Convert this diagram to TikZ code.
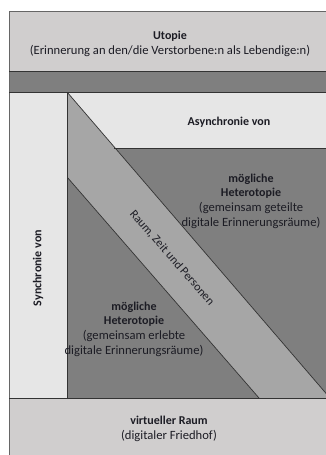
\documentclass[tikz,border=0pt]{standalone}
\usepackage{fontspec}
\setmainfont{Carlito}
\definecolor{bandlight}{HTML}{D0CECE}
\definecolor{panel}{HTML}{E6E6E6}
\definecolor{darkfill}{HTML}{7F7F7F}
\definecolor{stripe}{HTML}{A6A6A6}
\definecolor{edge}{HTML}{333333}
\definecolor{outeredge}{HTML}{666666}
\definecolor{ink}{HTML}{1C1C24}
\newcommand{\paren}[1]{{\fontsize{12.6}{14.7}\selectfont #1}}
\begin{document}
\begin{tikzpicture}[x=1pt,y=-1pt,
  label/.style={text=ink,align=center,font=\fontsize{12}{14.7}\selectfont,inner sep=0pt},
  frameline/.style={draw=edge,line width=0.8pt}]
\useasboundingbox (0,0) rectangle (325,455);
% horizontal bands
\fill[bandlight] (9,11) rectangle (335,71);
\fill[darkfill] (9,71) rectangle (335,92);
\fill[bandlight] (9,398) rectangle (335,460);
% left column
\fill[panel] (9,92) rectangle (67,398);
% central field
\fill[darkfill] (67,92) rectangle (335,398);
\fill[panel] (67,92) rectangle (335,148);
\begin{scope}
  \clip (67,92) rectangle (335,398);
  \fill[stripe] (67,92) -- (67,177) -- (259,398) -- (330,398) -- cycle;
  \draw[edge,line width=0.7pt] (67,92) -- (330,398);
  \draw[edge,line width=0.7pt] (67,177) -- (259,398);
\end{scope}
\draw[edge,line width=0.7pt] (114,148) -- (335,148);
% outlines
\draw[outeredge,line width=0.9pt] (9,460) -- (9,11) -- (335,11);
\draw[frameline] (9,71) -- (335,71);
\draw[frameline] (9,92) -- (335,92);
\draw[frameline] (9,398) -- (335,398);
\draw[frameline] (67,92) -- (67,398);
% texts
\node[label] (utopie) at (170,44) {\textbf{Utopie}\\\paren{(Erinnerung an den/die Verstorbene:n als Lebendige:n)}};
\node[label] (async) at (229,122) {\textbf{Asynchronie von}};
\node[label,rotate=90] (sync) at (38,268) {\textbf{Synchronie von}};
\node[label] (hetA) at (251,201) {\textbf{mögliche}\\\textbf{Heterotopie}\\\paren{(gemeinsam geteilte}\\\paren{digitale Erinnerungsräume)}};
\node[label] (hetB) at (134,329) {\textbf{mögliche}\\\textbf{Heterotopie}\\\paren{(gemeinsam erlebte}\\\paren{digitale Erinnerungsräume)}};
\node[label,rotate=-49] (rzp) at (172,258) {Raum, Zeit und Personen};
\node[label] (virt) at (169,429) {\textbf{virtueller Raum}\\\paren{(digitaler Friedhof)}};
\end{tikzpicture}
\end{document}
